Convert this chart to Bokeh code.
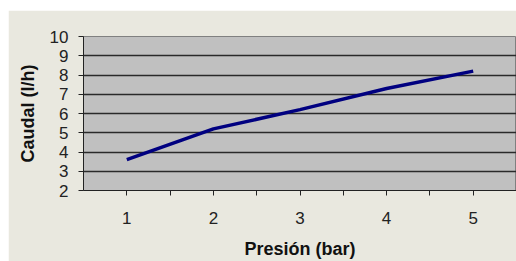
from bokeh.plotting import figure
from bokeh.models import Range1d, FixedTicker
from bokeh.embed import file_html
from bokeh.resources import INLINE

presion = [1, 2, 3, 4, 5]
caudal = [3.6, 5.2, 6.2, 7.3, 8.2]
y_ticks = [2, 3, 4, 5, 6, 7, 8, 9, 10]
x_ticks = [1, 2, 3, 4, 5]
x_minor = [1.5, 2.5, 3.5, 4.5]

p = figure(width=508, height=251, output_backend="svg", toolbar_location=None,
           x_range=Range1d(0.5, 5.5), y_range=Range1d(2, 10),
           min_border_left=75, min_border_right=0, min_border_top=26, min_border_bottom=70)
p.margin = (10, 0, 0, 8)

p.background_fill_color = "#C0C0C0"
p.border_fill_color = "#E9E8DF"
p.outline_line_color = "#808080"
p.outline_line_width = 1

p.line(presion, caudal, line_color="#000080", line_width=3.5)

p.xgrid.grid_line_color = None
p.ygrid.ticker = FixedTicker(ticks=y_ticks)
p.ygrid.grid_line_color = "#2a2a2a"
p.ygrid.grid_line_width = 1.5

p.xaxis.ticker = FixedTicker(ticks=x_ticks, minor_ticks=x_minor)
p.yaxis.ticker = FixedTicker(ticks=y_ticks)

for ax in (p.xaxis[0], p.yaxis[0]):
    ax.axis_line_color = "#222222"
    ax.axis_line_width = 1
    ax.major_tick_line_color = "#222222"
    ax.major_tick_in = 0
    ax.major_tick_out = 5
    ax.major_label_text_font = "Liberation Sans"
    ax.major_label_text_font_size = "17px"
    ax.major_label_text_color = "#222222"
    ax.axis_label_text_font = "Liberation Sans"
    ax.axis_label_text_font_size = "18px"
    ax.axis_label_text_font_style = "bold"
    ax.axis_label_text_color = "#111111"

p.xaxis.major_label_standoff = 16
p.yaxis.major_label_standoff = 10

p.xaxis.minor_tick_line_color = "#222222"
p.xaxis.minor_tick_in = 0
p.xaxis.minor_tick_out = 5
p.yaxis.minor_tick_line_color = None

p.xaxis.axis_label = "Presión (bar)"
p.yaxis.axis_label = "Caudal (l/h)"
p.xaxis.axis_label_standoff = 12
p.yaxis.axis_label_standoff = 9

open("out.html", "w").write(file_html(p, INLINE))
